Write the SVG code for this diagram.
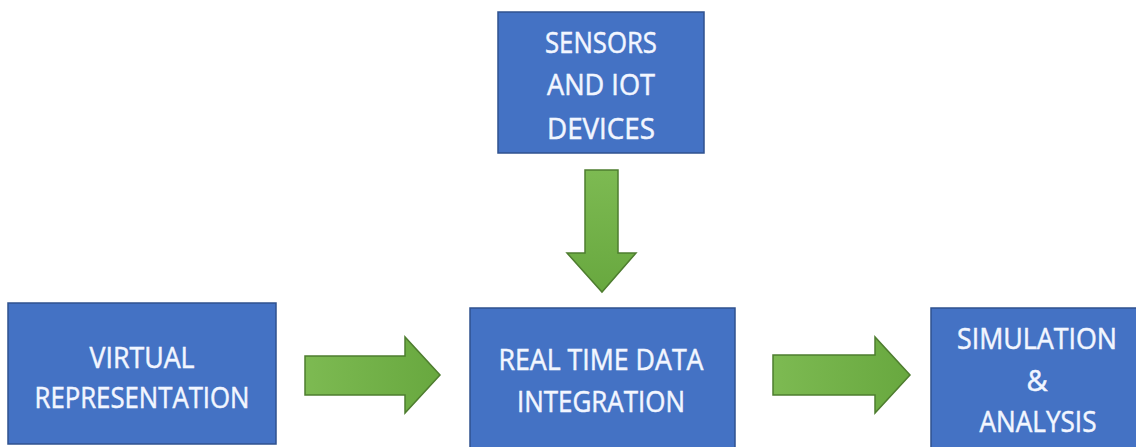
<svg xmlns="http://www.w3.org/2000/svg" width="1136" height="447" viewBox="0 0 1136 447">
<defs>
<linearGradient id="gh" x1="0" y1="0" x2="1" y2="0">
<stop offset="0" stop-color="#7DBA52"/>
<stop offset="1" stop-color="#68A83F"/>
</linearGradient>
<linearGradient id="gv" x1="0" y1="0" x2="0" y2="1">
<stop offset="0" stop-color="#7DBA52"/>
<stop offset="1" stop-color="#68A83F"/>
</linearGradient>
</defs>
<style>
.box{fill:#4472C4;stroke:#2F528F;stroke-width:1.5}
.lbl{font-family:"Open Sans","Liberation Sans",sans-serif;font-size:29px;fill:#F2F6FF;stroke:#F2F6FF;stroke-width:0.5;text-anchor:middle}
.arr{stroke:#4E7D2F;stroke-width:1.5;stroke-linejoin:miter}
</style>
<rect width="1136" height="447" fill="#FFFFFF"/>
<g id="connectors">
<path class="arr" fill="url(#gh)" d="M305,356 H405 V337 L440,375 L405,413 V395 H305 Z"/>
<path class="arr" fill="url(#gh)" d="M773,355 H875 V337 L910,375 L875,413 V395 H773 Z"/>
<path class="arr" fill="url(#gv)" d="M585,170 H618 V253 H636 L602,292 L567,253 H585 Z"/>
</g>
<g id="sensors">
<rect class="box" x="498" y="12" width="206" height="141"/>
<text class="lbl" x="601" y="53" textLength="112" lengthAdjust="spacingAndGlyphs">SENSORS</text>
<text class="lbl" x="601" y="95" textLength="108" lengthAdjust="spacingAndGlyphs">AND IOT</text>
<text class="lbl" x="601" y="139" textLength="108" lengthAdjust="spacingAndGlyphs">DEVICES</text>
</g>
<g id="virtual">
<rect class="box" x="8" y="303" width="268" height="141"/>
<text class="lbl" x="142" y="368" textLength="105" lengthAdjust="spacingAndGlyphs">VIRTUAL</text>
<text class="lbl" x="142" y="408" textLength="215" lengthAdjust="spacingAndGlyphs">REPRESENTATION</text>
</g>
<g id="realtime">
<rect class="box" x="470" y="308" width="265" height="150"/>
<text class="lbl" x="601" y="370" textLength="205" lengthAdjust="spacingAndGlyphs">REAL TIME DATA</text>
<text class="lbl" x="601" y="412" textLength="168" lengthAdjust="spacingAndGlyphs">INTEGRATION</text>
</g>
<g id="simulation">
<rect class="box" x="931" y="308" width="220" height="150"/>
<text class="lbl" x="1037" y="349" textLength="160" lengthAdjust="spacingAndGlyphs">SIMULATION</text>
<text class="lbl" x="1037" y="391">&amp;</text>
<text class="lbl" x="1038" y="432" textLength="117" lengthAdjust="spacingAndGlyphs">ANALYSIS</text>
</g>
</svg>
